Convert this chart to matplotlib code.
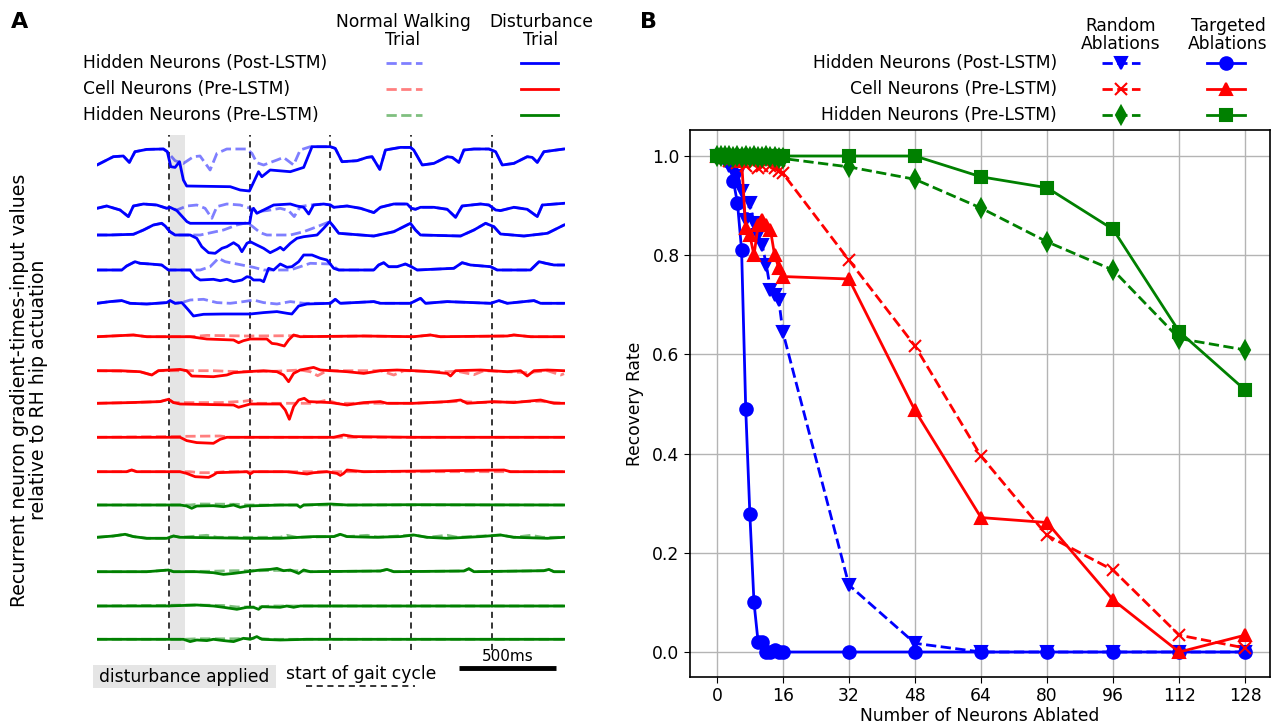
import matplotlib
matplotlib.use('Agg')
import matplotlib.pyplot as plt

# ---------------- Panel B data ----------------
n_ablated = [0, 1, 2, 3, 4, 5, 6, 7, 8, 9, 10, 11, 12, 13, 14, 15, 16, 32, 48, 64, 80, 96, 112, 128]
rand_post = [1.0, 1.0, 0.99, 0.98, 0.97, 0.96, 0.93, 0.87, 0.905, 0.865, 0.84, 0.82, 0.78, 0.73, 0.72, 0.71, 0.645,
             0.135, 0.0175, 0.0, 0.0, 0.0, 0.0, 0.0]
targ_post = [1.0, 1.0, 1.0, 0.99, 0.95, 0.905, 0.81, 0.49, 0.278, 0.10, 0.02, 0.02, 0.0, 0.0, 0.005, 0.0, 0.0,
             0.0, 0.0, 0.0, 0.0, 0.0, 0.0, 0.0]
rand_cell = [1.0, 1.0, 0.995, 0.99, 0.995, 0.985, 0.99, 0.98, 0.99, 0.985, 0.975, 0.98, 0.985, 0.98, 0.975, 0.97, 0.965,
             0.79, 0.617, 0.395, 0.235, 0.165, 0.034, 0.008]
targ_cell = [1.0, 1.0, 1.0, 1.0, 1.0, 1.0, 0.99, 0.855, 0.84, 0.80, 0.86, 0.87, 0.86, 0.85, 0.80, 0.775, 0.757,
             0.752, 0.487, 0.271, 0.261, 0.105, 0.0, 0.034]
rand_hpre = [1.0, 1.0, 1.0, 1.0, 0.998, 1.0, 0.998, 1.0, 0.997, 1.0, 0.998, 0.997, 1.0, 0.998, 0.997, 0.996, 0.995,
             0.978, 0.953, 0.895, 0.827, 0.77, 0.632, 0.609]
targ_hpre = [1.0, 1.0, 1.0, 1.0, 1.0, 1.0, 1.0, 1.0, 1.0, 1.0, 1.0, 1.0, 1.0, 1.0, 1.0, 1.0, 1.0,
             1.0, 1.0, 0.958, 0.936, 0.852, 0.646, 0.528]
x_ticks_b = [0, 16, 32, 48, 64, 80, 96, 112, 128]
y_ticks_b = [0.0, 0.2, 0.4, 0.6, 0.8, 1.0]
row_labels = ['Hidden Neurons (Post-LSTM)', 'Cell Neurons (Pre-LSTM)', 'Hidden Neurons (Pre-LSTM)']

# ---------------- Panel A data (time in ms, value in a.u.) ----------------
gait_starts = [372, 791, 1205, 1623, 2037]
disturbance_window = [375, 455]
scale_bar_ms = 500

# Hidden neurons (post-LSTM)
blue1_dist_t = [0, 84, 136, 167, 196, 257, 343, 363, 381, 403, 426, 446, 463, 688, 739, 787, 834, 851, 894, 998, 1067, 1110,
                1205, 1230, 1265, 1342, 1394, 1420, 1460, 1489, 1566, 1618, 1635, 1679, 1739, 1808, 1834, 1868, 1894, 1946,
                2023, 2058, 2092, 2152, 2221, 2247, 2273, 2307, 2411]
blue1_dist_v = [0.17, 1.0, 1.07, 0.43, 1.5, 1.73, 1.77, 1.5, 0, -0.07, 0.5, -1.33, -1.93, -2.0, -2.33, -2.43, -0.5, -1.0, -0.33, -0.5, -0.07, 2.0,
                2.0, 1.83, 0.5, 0.6, 0.93, 1.0, -0.27, 1.67, 1.93, 1.93, 1.67, 0.17, 0.33, 1.0, 0.93, 0.43, 1.67, 1.77,
                1.77, 1.5, 0.17, 0.33, 1.0, 0.93, 0.43, 1.5, 1.77]
blue1_norm_t = [0, 84, 136, 167, 196, 257, 343, 363, 403, 446, 498, 532, 584, 619, 670, 774, 800, 825, 860, 929, 963, 1015, 1049, 1101,
                1205, 1230, 1265, 1342, 1394, 1420, 1460, 1489, 1566, 1618, 1635, 1679, 1739, 1808, 1834, 1868, 1894, 1946,
                2023, 2058, 2092, 2152, 2221, 2247, 2273, 2307, 2411]
blue1_norm_v = [0.17, 1.0, 1.07, 0.43, 1.5, 1.73, 1.77, 1.5, 0.6, 0.33, 1.0, 1.07, -0.33, 1.33, 1.77, 1.77, 1.33, 0.4, 0.17, 0.67, 0.93, 0.17, 1.67, 2.0,
                2.0, 1.83, 0.5, 0.6, 0.93, 1.0, -0.27, 1.67, 1.93, 1.93, 1.67, 0.17, 0.33, 1.0, 0.93, 0.43, 1.67, 1.77,
                1.77, 1.5, 0.17, 0.33, 1.0, 0.93, 0.43, 1.5, 1.77]

blue2_dist_t = [0, 50, 119, 162, 188, 240, 308, 360, 377, 412, 464, 481, 788, 800, 808, 825, 860, 912, 998, 1032,
                1067, 1093, 1118, 1170, 1205, 1222, 1291, 1360, 1429, 1463, 1532, 1601, 1623, 1644, 1670, 1739, 1808, 1851, 1885, 1980,
                2023, 2058, 2083, 2152, 2221, 2273, 2299, 2411]
blue2_dist_v = [1.5, 1.73, 1.33, 0.67, 1.73, 1.93, 1.83, 1.5, 1.6, 1.27, 0.17, 0, 0, 1.33, 1.5, 1.0, 1.33, 1.83, 1.93, 1.73,
                1.6, 0.93, 1.83, 1.93, 1.83, 1.6, 1.73, 1.5, 1.07, 1.6, 1.93, 1.93, 1.5, 1.4, 1.6, 1.6, 1.4, 0.6, 1.73, 1.93,
                1.83, 1.33, 1.27, 1.6, 1.4, 0.67, 1.83, 2.0]
blue2_norm_t = [0, 50, 119, 162, 188, 240, 308, 360, 377, 412, 464, 515, 558, 593, 619, 670, 739, 791, 825,
                877, 946, 989, 1018, 1049, 1101, 1170, 1205,
                1222, 1291, 1360, 1429, 1463, 1532, 1601, 1623, 1644, 1670, 1739, 1808, 1851, 1885, 1980,
                2023, 2058, 2083, 2152, 2221, 2273, 2299, 2411]
blue2_norm_v = [1.5, 1.73, 1.33, 0.67, 1.73, 1.93, 1.83, 1.5, 1.6, 1.33, 1.73, 1.83, 1.5, 0.5, 1.67, 1.93, 1.83, 1.5, 1.17,
                1.27, 1.5, 1.27, 0.67, 1.67, 1.83, 1.93, 1.83,
                1.6, 1.73, 1.5, 1.07, 1.6, 1.93, 1.93, 1.5, 1.4, 1.6, 1.6, 1.4, 0.6, 1.73, 1.93,
                1.83, 1.33, 1.27, 1.6, 1.4, 0.67, 1.83, 2.0]

blue3_dist_t = [0, 67, 188, 240, 291, 334, 352, 377, 403, 481, 515, 541, 576, 610, 645, 670, 705, 731, 748, 774,
                791, 825, 860, 894, 929, 946, 963, 998, 1032, 1067, 1136, 1170, 1201, 1222, 1248, 1429, 1532, 1618, 1644, 1670,
                1877, 1946, 2006, 2049, 2083, 2204, 2325, 2411]
blue3_dist_v = [0, 0, 0.07, 0.5, 1.0, 1.17, 0.9, 0.33, 0, 0, -0.33, -1.17, -1.77, -1.83, -1.33, -1.17, -0.77, -1.1, -1.67, -0.83,
                -0.67, -1.0, -1.33, -1.77, -1.43, -1.23, -1.5, -0.83, -0.33, -0.17, 0, 0.67, 1.33, 0.83, 0.17, -0.1, 0.33, 1.17, 0.5, 0,
                -0.1, 0.5, 1.17, 0.83, 0.1, -0.1, 0.17, 1.0]
blue3_norm_t = [0, 67, 188, 240, 291, 334, 352, 377, 403, 533, 653, 722, 774, 800, 843, 877, 998, 1067, 1136, 1201,
                1222, 1248, 1429, 1532, 1618, 1644, 1670, 1877, 1946, 2006, 2049, 2083, 2204, 2325, 2411]
blue3_norm_v = [0, 0, 0.07, 0.5, 1.0, 1.17, 0.9, 0.33, 0, 0, 0.5, 1.0, 1.23, 0.9, 0.23, 0, 0, 0.33, 0.83, 1.33,
                0.83, 0.17, -0.1, 0.33, 1.17, 0.5, 0, -0.1, 0.5, 1.17, 0.83, 0.1, -0.1, 0.17, 1.0]

blue4_dist_t = [0, 128, 153, 196, 222, 274, 334, 369, 481, 507, 533, 601, 636, 670, 705, 748, 774, 791, 808, 843,
                860, 886, 912, 946, 981, 1006, 1041, 1067, 1110, 1153, 1187, 1222, 1248, 1429, 1454, 1480, 1506, 1549, 1592, 1623,
                1653, 1842, 1885, 1928, 2032, 2066, 2238, 2282, 2316, 2359, 2411]
blue4_dist_v = [0, 0, 0.4, 0.83, 0.67, 0.6, 0.5, 0, 0, -0.67, -1.0, -0.93, -1.07, -0.93, -1.17, -1.0, -0.67, -0.73, -1.0, -1.0,
                -1.17, 0.17, 0, 0.6, 0.27, 0.33, 0.83, 1.5, 1.5, 1.17, 1.0, 0.17, 0, 0, 0.5, 0.73, 0.33, 0.33, 0.6, 0.33,
                0, 0.17, 0.73, 0.5, 0.33, 0, 0, 0.83, 0.67, 0.5, 0.5]
blue4_norm_t = [0, 128, 153, 196, 222, 274, 334, 369, 533, 584, 627, 662, 722, 808, 860, 998, 1049, 1101, 1205, 1248,
                1429, 1454, 1480, 1506, 1549, 1592, 1623, 1653, 1842, 1885, 1928, 2032, 2066, 2238, 2282, 2316, 2359, 2411]
blue4_norm_v = [0, 0, 0.4, 0.83, 0.67, 0.6, 0.5, 0, 0, 0.33, 1.17, 0.83, 0.6, 0.27, 0, 0, 0.33, 0.67, 0.6, 0,
                0, 0.5, 0.73, 0.33, 0.33, 0.6, 0.33, 0, 0.17, 0.73, 0.5, 0.33, 0, 0, 0.83, 0.67, 0.5, 0.5]

blue5_dist_t = [0, 67, 128, 170, 257, 360, 377, 403, 438, 472, 498, 550, 653, 791, 860, 929, 981, 1006, 1041, 1084,
                1205, 1230, 1256, 1429, 1463, 1618, 1670, 1696, 1808, 2032, 2075, 2118, 2256, 2290, 2411]
blue5_dist_v = [0, 0.17, 0.27, 0, -0.07, 0.07, 0.27, 0, 0.07, -0.67, -1.27, -1.1, -1.07, -1.07, -0.93, -0.83, -1.0, -1.07, -0.27, -0.07,
                0, 0.4, 0, 0.17, 0, 0, 0.5, 0, 0.17, 0, 0.27, 0, 0.27, 0, 0]
blue5_norm_t = [0, 67, 128, 170, 257, 360, 377, 403, 438, 481, 550, 619, 688, 757, 808, 860, 929, 998, 1067, 1170,
                1205, 1230, 1256, 1429, 1463, 1618, 1670, 1696, 1808, 2032, 2075, 2118, 2256, 2290, 2411]
blue5_norm_v = [0, 0.17, 0.27, 0, -0.07, 0.07, 0.27, 0, 0.07, 0.33, 0.4, 0.07, 0, 0.17, 0.33, 0.07, -0.07, 0.17, 0, 0,
                0, 0.4, 0, 0.17, 0, 0, 0.5, 0, 0.17, 0, 0.27, 0, 0.27, 0, 0]

# Cell neurons (pre-LSTM)
red1_dist_t = [0, 188, 257, 481, 567, 705, 731, 756, 791, 877, 903, 929, 967, 989, 1015, 1049, 1377, 1635, 1721, 1773, 2118, 2152, 2239, 2411]
red1_dist_v = [0, 0.17, 0, 0, -0.23, -0.33, -0.6, -0.4, -0.23, -0.23, -0.67, -0.73, -0.93, -0.33, 0.17, 0, 0.07, 0, 0.17, 0, 0.07, 0.17, 0, 0]
red1_norm_t = [0, 188, 257, 481, 567, 774, 1015, 1118, 1377, 1635, 1721, 1773, 2118, 2152, 2239, 2411]
red1_norm_v = [0, 0.17, 0, 0, 0.13, 0.07, 0.1, 0, 0.07, 0, 0.17, 0, 0.07, 0.17, 0, 0]

red2_dist_t = [0, 119, 222, 283, 317, 429, 463, 489, 601, 670, 705, 774, 860, 929, 963, 989, 1015, 1049, 1118, 1153,
               1291, 1377, 1463, 1549, 1635, 1721, 1808, 1825, 1851, 1980, 2118, 2187, 2221, 2256, 2325, 2411]
red2_dist_v = [0, 0, -0.1, -0.43, 0, 0.13, 0, -0.53, -0.6, -0.43, -0.2, -0.1, 0, -0.1, -0.43, -1.1, -0.27, 0.07, 0.33, 0.07,
               -0.1, -0.27, 0, 0.07, 0, -0.1, -0.27, -0.53, 0, 0.07, -0.1, 0, -0.53, 0, 0.07, 0]
red2_norm_t = [0, 222, 283, 317, 463, 601, 688, 774, 929, 1049, 1101, 1139, 1187, 1463, 1532, 1584, 1808, 1859, 1946, 1997,
               2221, 2325, 2394, 2411]
red2_norm_v = [0, -0.1, -0.43, 0, 0, 0, -0.07, -0.1, -0.05, 0.07, -0.1, -0.5, 0, 0, -0.43, 0, -0.1, -0.05, -0.4, 0,
               -0.2, 0, -0.43, -0.3]

red3_dist_t = [0, 171, 326, 369, 395, 429, 705, 731, 791, 946, 972, 993, 1015, 1041, 1070, 1093, 1205, 1291, 1377, 1463,
               1497, 1635, 1808, 1877, 1911, 2049, 2152, 2290, 2359, 2411]
red3_dist_v = [0, 0.07, 0.17, 0.4, 0.07, -0.07, -0.17, -0.4, -0.07, -0.07, -0.67, -1.6, -0.33, 0.33, 0.5, 0.17, 0.07, -0.17, 0.07, 0.17,
               0, 0, 0.17, 0.33, 0, 0.17, 0.07, 0.33, 0, 0]
red3_norm_t = [0, 171, 326, 369, 395, 636, 756, 791, 817, 1118, 1187, 1239, 1635, 1877, 1980, 2049, 2290, 2411]
red3_norm_v = [0, 0.07, 0.17, 0.4, 0.07, 0.07, 0.2, 0.3, 0, 0, 0.33, 0, 0, 0.2, 0.07, 0.1, 0.2, 0]

red4_dist_t = [0, 429, 463, 515, 601, 636, 670, 1222, 1273, 1325, 1635, 2411]
red4_dist_v = [0, 0, -0.33, -0.53, -0.6, -0.2, 0, 0, 0.23, 0.07, 0, 0]
red4_norm_t = [0, 463, 636, 688, 2411]
red4_norm_v = [0, 0.1, 0.13, 0, 0]

red5_dist_t = [0, 153, 179, 205, 429, 463, 507, 576, 601, 619, 774, 791, 808, 980, 1084, 1118, 1187, 1239, 1256, 1273,
               1291, 1377, 2101, 2135, 2411]
red5_dist_v = [0, 0, 0.17, 0, 0, -0.17, -0.5, -0.57, -0.33, -0.1, 0, -0.23, 0, 0, -0.23, -0.1, 0, -0.17, -0.37, -0.17,
               0.17, 0, 0.17, 0, 0]
red5_norm_t = [0, 153, 179, 205, 481, 533, 601, 653, 2411]
red5_norm_v = [0, 0, 0.17, 0, 0, -0.1, -0.1, 0, 0]

# Hidden neurons (pre-LSTM)
green1_dist_t = [0, 429, 463, 489, 515, 601, 653, 705, 739, 774, 946, 1032, 1049, 1067, 1205, 1291, 1635, 2411]
green1_dist_v = [0, 0, -0.1, -0.33, -0.1, -0.07, -0.17, 0, -0.23, -0.1, 0, 0, -0.23, 0, 0.1, 0, 0.03, 0]
green1_norm_t = [0, 481, 533, 722, 774, 2411]
green1_norm_v = [0, 0, 0.1, 0.07, 0, 0]

green2_dist_t = [0, 84, 145, 188, 257, 360, 395, 429, 774, 946, 1118, 1222, 1256, 1291, 1429, 1566, 1635, 1704, 1808, 1980,
                 2083, 2152, 2325, 2411]
green2_dist_v = [0, 0.13, 0.3, 0.07, -0.1, -0.1, 0.13, 0, -0.1, -0.1, 0.07, 0.07, 0.3, 0.07, 0, 0.07, 0.23, 0, -0.1, 0.07,
                 0.23, 0, -0.1, 0]
green2_norm_t = [0, 84, 145, 188, 257, 360, 395, 429, 567, 620, 946, 980, 1030, 1222, 1256, 1291, 1395, 1450, 1635, 1704,
                 1808, 1860, 2083, 2152, 2239, 2300, 2411]
green2_norm_v = [0, 0.13, 0.3, 0.07, -0.1, -0.1, 0.13, 0, 0.2, 0, 0, 0.2, 0, 0.07, 0.3, 0.07, 0.2, 0, 0.23, 0,
                 0.2, 0, 0.23, 0, 0.2, 0, 0]

green3_dist_t = [0, 257, 369, 395, 515, 601, 653, 705, 774, 843, 894, 929, 963, 998, 1041, 1067, 1101, 1463, 1497, 1532,
                 1894, 1920, 1946, 2307, 2333, 2359, 2411]
green3_dist_v = [0, 0, 0.17, 0, 0, -0.1, -0.27, -0.17, 0, 0.17, 0.23, 0.33, 0.1, 0.17, -0.17, 0.17, 0, 0.07, 0.23, 0,
                 0.07, 0.3, 0, 0.1, 0.23, 0, 0]
green3_norm_t = [0, 257, 369, 395, 601, 705, 843, 929, 1067, 1101, 1463, 1497, 1532, 1894, 1920, 1946, 2307, 2333, 2359, 2411]
green3_norm_v = [0, 0, 0.17, 0, 0.05, 0.1, 0.1, 0.13, 0.07, 0, 0.07, 0.23, 0, 0.07, 0.3, 0, 0.1, 0.23, 0, 0]

green4_dist_t = [0, 360, 515, 601, 653, 722, 774, 808, 834, 851, 946, 980, 1015, 1049, 2411]
green4_dist_v = [0, 0, 0.1, 0, -0.13, -0.33, -0.13, -0.13, -0.33, -0.07, -0.13, 0, -0.13, 0, 0]
green4_norm_t = [0, 515, 653, 722, 834, 900, 2411]
green4_norm_v = [0, 0.1, 0.05, -0.1, -0.1, 0, 0]

green5_dist_t = [0, 446, 481, 515, 567, 601, 653, 705, 756, 791, 825, 851, 946, 1084, 2411]
green5_dist_v = [0, 0, -0.23, -0.07, -0.13, 0, -0.13, -0.23, 0.1, 0, 0.27, 0, -0.07, 0, 0]
green5_norm_t = [0, 446, 515, 705, 825, 900, 2411]
green5_norm_v = [0, 0, 0.05, 0.05, 0.1, 0, 0]

# ---------------- layout / style ----------------
trace_baselines = [-16.67, -22.33, -23.5, -27.0, -30.33, -33.67, -37.07, -40.33, -43.73, -47.17,
                   -50.5, -53.73, -57.17, -60.6, -63.93]
C_BLUE, C_RED, C_GREEN = '#0000ff', '#ff0000', '#008000'

traces = [
    (blue1_dist_t, blue1_dist_v, blue1_norm_t, blue1_norm_v, C_BLUE),
    (blue2_dist_t, blue2_dist_v, blue2_norm_t, blue2_norm_v, C_BLUE),
    (blue3_dist_t, blue3_dist_v, blue3_norm_t, blue3_norm_v, C_BLUE),
    (blue4_dist_t, blue4_dist_v, blue4_norm_t, blue4_norm_v, C_BLUE),
    (blue5_dist_t, blue5_dist_v, blue5_norm_t, blue5_norm_v, C_BLUE),
    (red1_dist_t, red1_dist_v, red1_norm_t, red1_norm_v, C_RED),
    (red2_dist_t, red2_dist_v, red2_norm_t, red2_norm_v, C_RED),
    (red3_dist_t, red3_dist_v, red3_norm_t, red3_norm_v, C_RED),
    (red4_dist_t, red4_dist_v, red4_norm_t, red4_norm_v, C_RED),
    (red5_dist_t, red5_dist_v, red5_norm_t, red5_norm_v, C_RED),
    (green1_dist_t, green1_dist_v, green1_norm_t, green1_norm_v, C_GREEN),
    (green2_dist_t, green2_dist_v, green2_norm_t, green2_norm_v, C_GREEN),
    (green3_dist_t, green3_dist_v, green3_norm_t, green3_norm_v, C_GREEN),
    (green4_dist_t, green4_dist_v, green4_norm_t, green4_norm_v, C_GREEN),
    (green5_dist_t, green5_dist_v, green5_norm_t, green5_norm_v, C_GREEN),
]

plt.rcParams['font.family'] = ['DejaVu Sans']
FS = 12.3
LW = 2.0
W, H = 1279, 728
fig = plt.figure(figsize=(W / 100, H / 100), dpi=100)

# overlay axes in pixel coordinates for annotations / custom legends
ov = fig.add_axes([0, 0, 1, 1])
ov.set_xlim(0, W)
ov.set_ylim(H, 0)
ov.axis('off')

# ---------------- Panel A ----------------
axA = fig.add_axes([97 / W, 1 - 650 / H, 468 / W, 515 / H])
axA.set_xlim(0, 2416)
axA.set_ylim(-65.0, -13.5)
axA.axis('off')
axA.axvspan(disturbance_window[0], disturbance_window[1], color='#e5e5e5', lw=0, zorder=0)
for g in gait_starts:
    axA.axvline(g, color='black', ls=(0, (4, 3)), lw=1.1, zorder=1)
for (dt, dv, nt, nv, c), base in zip(traces, trace_baselines):
    axA.plot(nt, [base + v for v in nv], color=c, alpha=0.5, ls='--', lw=LW, zorder=2)
    axA.plot(dt, [base + v for v in dv], color=c, ls='-', lw=LW, zorder=3)

# scale bar
axA.plot([1870, 1870 + scale_bar_ms], [-66.8, -66.8], color='black', lw=3.5, solid_capstyle='butt', clip_on=False)
axA.text(1870 + scale_bar_ms / 2, -66.4, '500ms', ha='center', va='bottom', fontsize=11, clip_on=False)

# disturbance / gait annotations
ov.add_patch(plt.Rectangle((93, 665), 183, 23, color='#e5e5e5', lw=0))
ov.text(184, 677, 'disturbance applied', ha='center', va='center', fontsize=FS)
ov.text(361, 674, 'start of gait cycle', ha='center', va='center', fontsize=FS)
ov.plot([306, 415], [686, 686], color='black', ls=(0, (4, 3)), lw=1.1)

# panel A y-label
ov.text(29, 390, 'Recurrent neuron gradient-times-input values\nrelative to RH hip actuation',
        rotation=90, ha='center', va='center', fontsize=13.6, multialignment='center', linespacing=1.05)

# panel A legend
ov.text(20, 22, 'A', fontsize=16, fontweight='bold', ha='center', va='center')
ov.text(403, 31, 'Normal Walking\nTrial', ha='center', va='center', fontsize=FS, linespacing=0.95)
ov.text(541, 31, 'Disturbance\nTrial', ha='center', va='center', fontsize=FS, linespacing=0.95)
for i, (lab, c) in enumerate(zip(row_labels, [C_BLUE, C_RED, C_GREEN])):
    y = 63 + 26 * i
    ov.text(83, y, lab, ha='left', va='center', fontsize=FS)
    ov.plot([386, 422], [y, y], color=c, alpha=0.5, ls='--', lw=LW)
    ov.plot([521, 558], [y, y], color=c, ls='-', lw=LW)

# ---------------- Panel B ----------------
axB = fig.add_axes([690 / W, 1 - 677 / H, 580 / W, 547 / H])
series_b = [
    (rand_post, C_BLUE, '--', 'v', 9),
    (targ_post, C_BLUE, '-', 'o', 9),
    (rand_cell, C_RED, '--', 'x', 9),
    (targ_cell, C_RED, '-', '^', 9),
    (rand_hpre, C_GREEN, '--', 'd', 9),
    (targ_hpre, C_GREEN, '-', 's', 9),
]
for vals, c, ls, mk, ms in series_b:
    axB.plot(n_ablated, vals, color=c, ls=ls, marker=mk, ms=ms, lw=LW, mew=1.5, zorder=3)
axB.set_xlim(-6.5, 134)
axB.set_ylim(-0.0504, 1.0524)
axB.set_xticks(x_ticks_b)
axB.set_yticks(y_ticks_b)
axB.set_yticklabels([f'{v:.1f}' for v in y_ticks_b])
axB.tick_params(labelsize=FS, length=4)
axB.grid(True, color='#b4b4b4', lw=1.0, zorder=0)
axB.set_axisbelow(True)
axB.set_xlabel('Number of Neurons Ablated', fontsize=FS, labelpad=1)
axB.set_ylabel('Recovery Rate', fontsize=FS, labelpad=6)
for s in axB.spines.values():
    s.set_linewidth(1.2)

# panel B legend
ov.text(648, 22, 'B', fontsize=16, fontweight='bold', ha='center', va='center')
ov.text(1121, 35, 'Random\nAblations', ha='center', va='center', fontsize=FS, linespacing=0.95)
ov.text(1228, 35, 'Targeted\nAblations', ha='center', va='center', fontsize=FS, linespacing=0.95)
legend_b = [(C_BLUE, 'v', 'o'), (C_RED, 'x', '^'), (C_GREEN, 'd', 's')]
for i, (lab, (c, mr, mt)) in enumerate(zip(row_labels, legend_b)):
    y = 63 + 26 * i
    ov.text(1057, y, lab, ha='right', va='center', fontsize=FS)
    ov.plot([1102, 1121, 1140], [y, y, y], color=c, ls='--', lw=LW, marker=mr, ms=9, mew=1.5, markevery=[1])
    ov.plot([1207, 1226, 1245], [y, y, y], color=c, ls='-', lw=LW, marker=mt, ms=9, mew=1.5, markevery=[1])

fig.savefig('out.png', dpi=100)
